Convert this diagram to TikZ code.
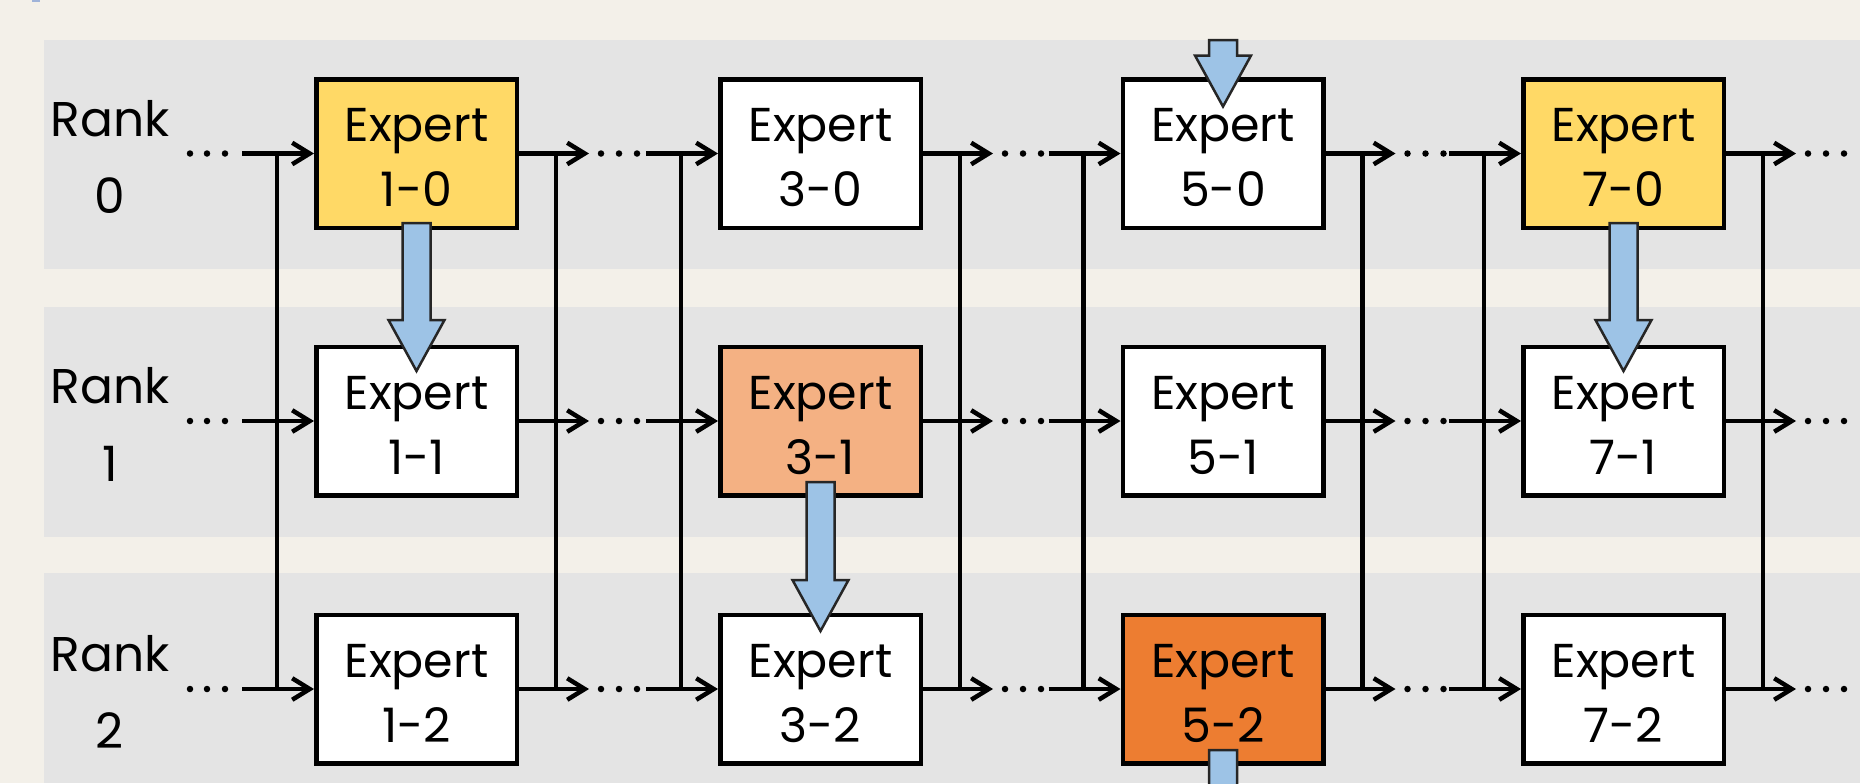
\documentclass[tikz,border=0pt]{standalone}
\usepackage{fontspec}
\setmainfont{Poppins}
\usetikzlibrary{arrows.meta,calc}
\definecolor{pagebg}{HTML}{F3F0E9}
\definecolor{bandgray}{HTML}{E4E4E4}
\definecolor{expYellow}{HTML}{FFD966}
\definecolor{expPeach}{HTML}{F4B183}
\definecolor{expOrange}{HTML}{ED7D31}
\definecolor{flowBlue}{HTML}{9DC3E6}
\definecolor{markBlue}{HTML}{9FB3D9}
\tikzset{
  expert/.style={draw=black, line width=1.8pt, fill=white,
    minimum width=80.2pt, minimum height=59.4pt, inner sep=0pt,
    align=center, font=\fontsize{19pt}{26pt}\selectfont},
  ranklabel/.style={align=center, inner sep=0pt,
    font=\fontsize{19.5pt}{31pt}\selectfont},
  conn/.style={line width=1.8pt, draw=black},
  flow/.style={conn, -{Straight Barb[length=7pt,width=8.6pt]}},
  blkarrow/.style={fill=flowBlue, draw=black!85, line width=1pt, line join=miter},
}
% two-line expert caption, nudged down a little inside its box
\newcommand\xcap[1]{\rule{0pt}{16.5pt}Expert\\#1}
% block arrow: shaft starts at #1, tip at #2 (vertical, pointing down)
\newcommand\blockarrow[2]{%
  \draw[blkarrow] let \p1=(#1), \p2=(#2) in
    (\x1-5.6pt,\y1) -- (\x1-5.6pt,\y2+20.4pt) -- (\x1-11.2pt,\y2+20.4pt)
    -- (\x1,\y2) -- (\x1+11.2pt,\y2+20.4pt) -- (\x1+5.6pt,\y2+20.4pt)
    -- (\x1+5.6pt,\y1) -- cycle;}
\begin{document}
\begin{tikzpicture}[x=0.4pt,y=-0.4pt]
\useasboundingbox (0,0) rectangle (1860,783);
\clip (0,0) rectangle (1860,783);
% page and rank bands
\fill[pagebg] (0,0) rectangle (1860,783);
\fill[markBlue] (32,0) rectangle (40,1.5);
\fill[bandgray] (44,40) rectangle (1860,269);
\fill[bandgray] (44,307) rectangle (1860,537);
\fill[bandgray] (44,573) rectangle (1860,783);
\coordinate (bandtop) at (0,40);

% rank labels
\node[ranklabel] (r0) at (110,157) {Rank\\0};
\node[ranklabel] (r1) at (110,424.5) {Rank\\1};
\node[ranklabel] (r2) at (110,692) {Rank\\2};

% experts
\node[expert, fill=expYellow] (e10) at (416.5,153.5) {\xcap{1-0}};
\node[expert] (e11) at (416.5,421) {\xcap{1-1}};
\node[expert] (e12) at (416.5,689) {\xcap{1-2}};
\node[expert] (e30) at (820.5,153.5) {\xcap{3-0}};
\node[expert, fill=expPeach] (e31) at (820.5,421) {\xcap{3-1}};
\node[expert] (e32) at (820.5,689) {\xcap{3-2}};
\node[expert] (e50) at (1223,153.5) {\xcap{5-0}};
\node[expert] (e51) at (1223,421) {\xcap{5-1}};
\node[expert, fill=expOrange] (e52) at (1223,689) {\xcap{5-2}};
\node[expert, fill=expYellow] (e70) at (1623.5,153.5) {\xcap{7-0}};
\node[expert] (e71) at (1623.5,421) {\xcap{7-1}};
\node[expert] (e72) at (1623.5,689) {\xcap{7-2}};

% leading dots before the first column
\foreach \r in {0,1,2} {
  \foreach \d in {-124,-107,-89}
    \fill ($(e1\r.west)+(\d,0)$) circle (1.3pt);
}

% data flow along each rank, with the all-to-all bus lines
\foreach \c in {1,3,5,7} {
  \foreach \r in {0,1,2} {
    \coordinate (in\c\r) at ($(e\c\r.west)+(-72,0)$);
    \coordinate (out\c\r) at ($(e\c\r.east)+(70,0)$);
    \draw[flow] (in\c\r) -- (e\c\r.west);
    \draw[flow] (e\c\r.east) -- (out\c\r);
    \foreach \d in {82,100,118}
      \fill ($(e\c\r.east)+(\d,0)$) circle (1.3pt);
  }
  \coordinate (bl\c0) at ($(e\c0.west)+(-37,0)$);
  \coordinate (bl\c2) at ($(e\c2.west)+(-37,0)$);
  \coordinate (br\c0) at ($(e\c0.east)+(37,0)$);
  \coordinate (br\c2) at ($(e\c2.east)+(37,0)$);
  \draw[conn] (bl\c0) -- (bl\c2);
  \draw[conn] (br\c0) -- (br\c2);
}

% expert migrations
\coordinate (m1s) at ($(e10.south)+(0,-7)$);
\coordinate (m1t) at ($(e11.north)+(0,26.5)$);
\blockarrow{m1s}{m1t}
\coordinate (m3s) at ($(e31.south)+(0,-15.5)$);
\coordinate (m3t) at ($(e32.north)+(0,18.5)$);
\blockarrow{m3s}{m3t}
\coordinate (m5s) at (e50.north |- bandtop);
\coordinate (m5t) at ($(e50.north)+(0,29.5)$);
\blockarrow{m5s}{m5t}
\coordinate (m6s) at ($(e52.south)+(0,-15.5)$);
\coordinate (m6t) at ($(e52.south)+(0,140)$);
\blockarrow{m6s}{m6t}
\coordinate (m7s) at ($(e70.south)+(0,-7)$);
\coordinate (m7t) at ($(e71.north)+(0,26.5)$);
\blockarrow{m7s}{m7t}
\end{tikzpicture}
\end{document}
